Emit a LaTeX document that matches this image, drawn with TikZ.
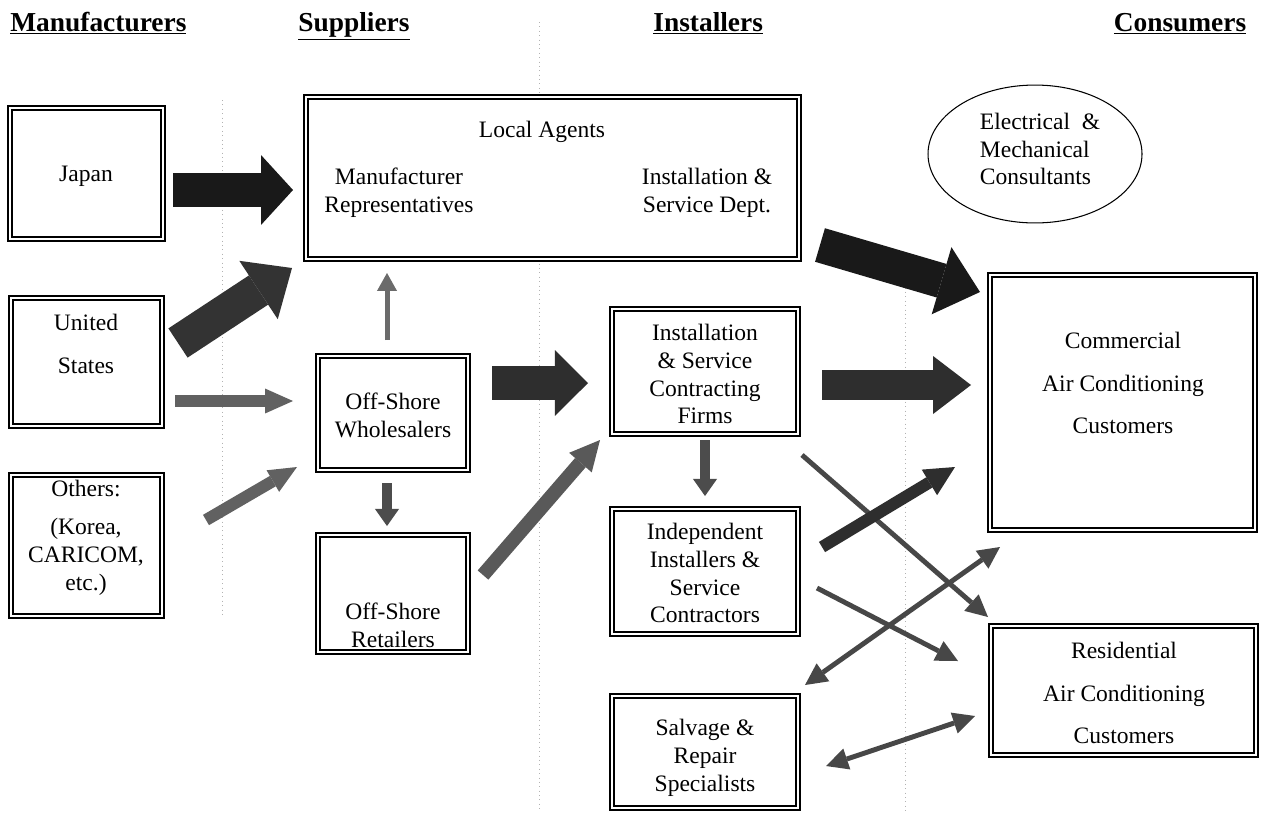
\documentclass[tikz,border=0pt]{standalone}
\usepackage{fontspec}
\setmainfont{Liberation Serif}
\usetikzlibrary{arrows.meta,shapes.geometric,fit}
\newcommand\myBody{\fontsize{13.4}{15.9}\selectfont}
\newcommand\myHead{\fontsize{15.6}{18}\selectfont\bfseries}
\begin{document}
\begin{tikzpicture}[x=0.02cm,y=-0.02cm,
  box/.style={draw=black, line width=0.85pt, double=white, double distance=1.4pt,
    fill=white, inner sep=0pt},
  txt/.style={font=\myBody, align=center, inner sep=0pt},
  hdr/.style={font=\myHead, inner sep=0pt},
  guide/.style={draw=gray!60, dotted, line width=0.5pt},
  arr/.style n args={5}{line width=#1, draw=#5,
    -{Triangle[length=#3 0 0,width=#2 0 0,line width=0pt 0 0,fill=#5]}},
  dbl/.style n args={4}{line width=#1, draw=#4,
    {Triangle[length=#3 0 0,width=#2 0 0,line width=0pt 0 0,fill=#4]}-{Triangle[length=#3 0 0,width=#2 0 0,line width=0pt 0 0,fill=#4]}}
]
\useasboundingbox (0,0) rectangle (1263,812);
\fill[white] (0,0) rectangle (1263,812);

% column guides
\draw[guide] (222,100) -- (222,615);
\draw[guide] (539,22) -- (539,812);
\draw[guide] (905,270) -- (905,812);

% headers
\node[hdr, anchor=base west] (h1) at (10,31) {\underline{Manufacturers}};
\node[hdr, anchor=base west] (h2) at (298,31) {\underline{Suppliers}};
\node[hdr, anchor=base west] (h3) at (653,31) {\underline{Installers}};
\node[hdr, anchor=base] (h4) at (1180,31) {\underline{Consumers}};

% boxes
\node[box, fit={(10,108) (163,239)}] (jp) {};
\node[txt] (jp-t) at (86,176) {Japan};
\node[box, fit={(11,298) (162,426)}] (us) {};
\node[txt] (us-t) at (86,344) {United\\[8.5pt]States};
\node[box, fit={(11,475) (162,616)}] (ot) {};
\node[txt] (ot-t) at (86,538) {Others:\\[5.5pt](Korea,\\CARICOM,\\etc.)};

\node[box, fit={(306,97) (799,259)}] (la) {};
\node[txt] (la-t) at (542,132) {Local Agents};
\node[txt] (la-m) at (399,193) {Manufacturer\\Representatives};
\node[txt] (la-i) at (707,193) {Installation \&\\Service Dept.};

\node[box, fit={(318,356) (468,470)}] (wh) {};
\node[txt] (wh-t) at (393,415) {Off-Shore\\Wholesalers};
\node[box, fit={(318,535) (468,652)}] (re) {};
\node[txt] (re-t) at (393,625) {Off-Shore\\Retailers};

\node[box, fit={(612,309) (798,434)}] (isf) {};
\node[txt] (isf-t) at (705,374) {Installation\\\& Service\\Contracting\\Firms};
\node[box, fit={(612,509) (798,634)}] (ind) {};
\node[txt] (ind-t) at (705,573) {Independent\\Installers \&\\Service\\Contractors};
\node[box, fit={(612,696) (798,808)}] (sal) {};
\node[txt] (sal-t) at (705,758) {Salvage \&\\Repair\\Specialists};

\node[box, fit={(990,275) (1255,530)}] (com) {};
\node[txt] (com-t) at (1123,383) {Commercial\\[8.5pt]Air Conditioning\\[8.5pt]Customers};
\node[box, fit={(991,626) (1256,755)}] (res) {};
\node[txt] (res-t) at (1124,693) {Residential\\[8.5pt]Air Conditioning\\[8.5pt]Customers};

\node[ellipse, draw=black, line width=0.6pt, minimum width=121.8pt, minimum height=78.5pt,
  inner sep=0pt] (emc) at (1035,154) {};
\node[txt, align=left] (emc-t) at (1040,149) {Electrical\ \ \&\\Mechanical\\Consultants};

% arrow end points
\coordinate (a1s) at (173,190);  \coordinate (a1e) at (293,190);
\coordinate (a2s) at (178,343);  \coordinate (a2e) at (292,268);
\coordinate (a3s) at (175,401);  \coordinate (a3e) at (293,401);
\coordinate (a4s) at (206,520);  \coordinate (a4e) at (297,467);
\coordinate (a5s) at (387,340);  \coordinate (a5e) at (387,273);
\coordinate (a6s) at (387,483);  \coordinate (a6e) at (387,526);
\coordinate (a7s) at (492,383);  \coordinate (a7e) at (588,383);
\coordinate (a8s) at (483,575);  \coordinate (a8e) at (600,440);
\coordinate (a9s) at (820,245);  \coordinate (a9e) at (980,292);
\coordinate (a10s) at (822,385); \coordinate (a10e) at (971,385);
\coordinate (a11s) at (705,440); \coordinate (a11e) at (705,496);
\coordinate (a12s) at (802,455); \coordinate (a12e) at (988,617);
\coordinate (a13s) at (822,547); \coordinate (a13e) at (955,467);
\coordinate (a14s) at (817,588); \coordinate (a14e) at (958,661);
\coordinate (a15s) at (805,685); \coordinate (a15e) at (1000,547);
\coordinate (a16s) at (826,766); \coordinate (a16e) at (975,716);

% manufacturers -> suppliers
\draw[arr={19.9pt}{39.8pt}{18.2pt}{}{black!90}] (a1s) -- (a1e);
\draw[arr={19.9pt}{39.8pt}{22.8pt}{}{black!80}] (a2s) -- (a2e);
\draw[arr={6.8pt}{14.2pt}{15.9pt}{}{black!62}] (a3s) -- (a3e);
\draw[arr={6.8pt}{14.2pt}{15.9pt}{}{black!62}] (a4s) -- (a4e);
% suppliers
\draw[arr={2.85pt}{11.4pt}{10.2pt}{}{black!58}] (a5s) -- (a5e);
\draw[arr={5.7pt}{13.7pt}{9.7pt}{}{black!70}] (a6s) -- (a6e);
\draw[arr={18.8pt}{37.5pt}{18.8pt}{}{black!82}] (a7s) -- (a7e);
\draw[arr={8pt}{17pt}{17pt}{}{black!65}] (a8s) -- (a8e);
% to consumers
\draw[arr={19.9pt}{39.8pt}{22.8pt}{}{black!90}] (a9s) -- (a9e);
\draw[arr={17pt}{33pt}{21.6pt}{}{black!82}] (a10s) -- (a10e);
\draw[arr={5.7pt}{13.7pt}{9.7pt}{}{black!70}] (a11s) -- (a11e);
\draw[arr={2.8pt}{12.5pt}{12.5pt}{}{black!72}] (a12s) -- (a12e);
\draw[arr={6.8pt}{17pt}{17pt}{}{black!82}] (a13s) -- (a13e);
\draw[arr={2.8pt}{12.5pt}{12.5pt}{}{black!72}] (a14s) -- (a14e);
\draw[dbl={2.8pt}{12.5pt}{12.5pt}{black!72}] (a15s) -- (a15e);
\draw[dbl={2.8pt}{12.5pt}{12.5pt}{black!72}] (a16s) -- (a16e);
\end{tikzpicture}
\end{document}
